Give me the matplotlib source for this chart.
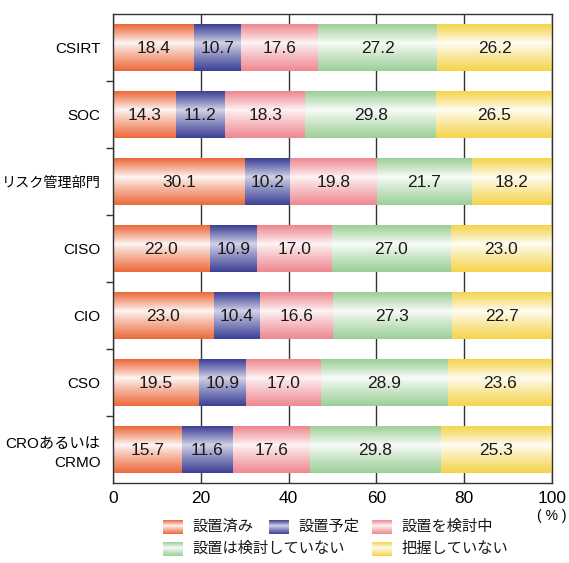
import numpy as np
import matplotlib
matplotlib.use("Agg")
import matplotlib.pyplot as plt
from matplotlib.colors import to_rgb

plt.rcParams['font.family'] = ['Liberation Sans', 'Noto Sans CJK JP']

categories = ["CSIRT", "SOC", "リスク管理部門", "CISO", "CIO", "CSO", "CROあるいは\nCRMO"]
series_names = ["設置済み", "設置予定", "設置を検討中", "設置は検討していない", "把握していない"]
installed = [18.4, 14.3, 30.1, 22.0, 23.0, 19.5, 15.7]
planned = [10.7, 11.2, 10.2, 10.9, 10.4, 10.9, 11.6]
considering = [17.6, 18.3, 19.8, 17.0, 16.6, 17.0, 17.6]
not_considering = [27.2, 29.8, 21.7, 27.0, 27.3, 28.9, 29.8]
unknown = [26.2, 26.5, 18.2, 23.0, 22.7, 23.6, 25.3]
series = [installed, planned, considering, not_considering, unknown]
colors = ["#EC6A3D", "#3D4196", "#EE8891", "#9CCF98", "#F5D44C"]
min_mix = [0.05, 0.22, 0.08, 0.05, 0.05]
xticks = [0, 20, 40, 60, 80, 100]

W, H = 569, 563
fig = plt.figure(figsize=(W / 100, H / 100), dpi=100)
ax = fig.add_axes([113 / W, 1 - 483 / H, (552 - 113) / W, (483 - 14) / H])


def gradient(color, lo, n=64):
    t = np.linspace(0, 1, n)
    c = 0.4
    d = np.where(t < c, (c - t) / c, (t - c) / (1 - c))
    w = lo + (1 - lo) * d ** 0.9
    rgb = np.array(to_rgb(color))
    img = (1 - w)[:, None] * np.ones(3)[None, :] + w[:, None] * rgb[None, :]
    return img[:, None, :]


y = np.arange(len(categories))
left = np.zeros(len(categories))
for vals, col, lo in zip(series, colors, min_mix):
    bars = ax.barh(y, vals, left=left, height=0.69, color="none", edgecolor="none", zorder=2)
    for b, v in zip(bars, vals):
        x0, y0 = b.get_x(), b.get_y()
        x1, y1 = x0 + b.get_width(), y0 + b.get_height()
        ax.imshow(gradient(col, lo), extent=(x0, x1, y1, y0), origin="upper",
                  aspect="auto", interpolation="bilinear", zorder=2)
        ax.text((x0 + x1) / 2, (y0 + y1) / 2 + 0.02, f"{v:.1f}", ha="center", va="center",
                fontsize=12.5, color="#1a1a1a", zorder=3)
    left = left + np.array(vals)

ax.set_xlim(0, 100)
ax.set_ylim(len(categories) - 0.5, -0.5)
ax.set_xticks(xticks)
ax.set_xticklabels([str(v) for v in xticks], fontsize=12.5)
ax.set_yticks(y)
ax.set_yticklabels(categories, fontsize=11, linespacing=1.45)
for lab in ax.get_yticklabels():
    if lab.get_text() == "リスク管理部門":
        lab.set_fontsize(10.2)
ax.set_yticks(np.arange(0.5, len(categories) - 1, 1), minor=True)
ax.tick_params(axis="y", which="major", length=0, pad=9)
ax.tick_params(axis="y", which="minor", length=5, width=1, color="#333333", direction="out")
ax.tick_params(axis="x", length=0, pad=6)
ax.xaxis.grid(True, color="#333333", linewidth=1, zorder=0)
ax.set_axisbelow(True)
for s in ax.spines.values():
    s.set_color("#333333")
    s.set_linewidth(1)

fig.text(552 / W, 1 - 516 / H, "( % )", ha="center", va="center", fontsize=10)

# legend drawn in pixel coordinates on an overlay
lg = fig.add_axes([0, 0, 1, 1])
lg.set_xlim(0, W)
lg.set_ylim(H, 0)
lg.axis("off")
legend_pos = [(163, 527), (269, 527), (372, 527), (163, 549), (372, 549)]
for (px, py), name, col, lo in zip(legend_pos, series_names, colors, min_mix):
    lg.imshow(gradient(col, lo), extent=(px, px + 20, py + 7, py - 7), origin="upper",
              aspect="auto", interpolation="bilinear")
    lg.text(px + 29, py, name, ha="left", va="center", fontsize=11, color="#1a1a1a")
lg.set_xlim(0, W)
lg.set_ylim(H, 0)

fig.savefig("out.png", dpi=100)
